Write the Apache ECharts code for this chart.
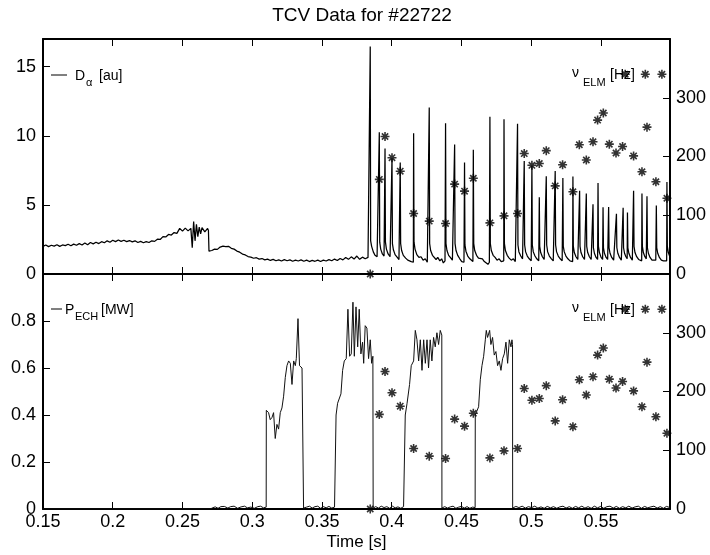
<!DOCTYPE html>
<html>
<head>
<meta charset="utf-8">
<script src="https://cdn.jsdelivr.net/npm/echarts@6/dist/echarts.min.js"></script>
<style>html,body{margin:0;padding:0;background:#fff;}#c{width:710px;height:555px;}</style>
</head>
<body>
<div id="c"></div>
<script>
// ---- data ----
var xTicks = [0.15, 0.2, 0.25, 0.3, 0.35, 0.4, 0.45, 0.5, 0.55];

// D-alpha [au] : [time, value]
var dalpha = [
[0.150,2.00],[0.152,2.10],[0.154,1.98],[0.156,2.08],[0.158,2.02],[0.160,2.12],[0.162,2.00],[0.164,2.10],[0.166,2.05],[0.168,2.15],
[0.170,2.04],[0.172,2.16],[0.174,2.08],[0.176,2.20],[0.178,2.10],[0.180,2.24],[0.182,2.12],[0.184,2.28],[0.186,2.18],[0.188,2.30],
[0.190,2.20],[0.192,2.34],[0.194,2.26],[0.196,2.40],[0.198,2.30],[0.200,2.44],[0.202,2.34],[0.204,2.46],[0.206,2.36],[0.208,2.44],
[0.210,2.34],[0.212,2.42],[0.214,2.32],[0.216,2.40],[0.218,2.28],[0.220,2.36],[0.222,2.26],[0.224,2.34],[0.226,2.28],[0.228,2.40],
[0.230,2.36],[0.232,2.52],[0.234,2.50],[0.236,2.70],[0.238,2.68],[0.240,2.86],[0.242,2.82],[0.244,3.00],[0.246,2.94],[0.248,3.30],
[0.250,3.10],[0.252,3.32],[0.254,3.12],[0.256,3.30],[0.257,1.90],[0.258,3.80],[0.259,2.40],[0.260,3.60],[0.261,2.70],[0.262,3.40],
[0.263,2.90],[0.264,3.35],[0.266,3.05],[0.268,3.30],[0.2686,3.15],[0.2690,1.65],[0.271,1.70],[0.273,1.80],[0.275,1.78],[0.277,1.95],
[0.279,2.02],[0.281,1.98],[0.283,2.00],[0.285,1.86],[0.287,1.80],[0.289,1.66],[0.291,1.58],[0.293,1.44],[0.295,1.38],[0.297,1.26],
[0.299,1.22],[0.301,1.14],[0.303,1.18],[0.305,1.08],[0.307,1.12],[0.309,1.02],[0.311,1.08],[0.313,0.98],[0.315,1.06],[0.317,0.96],
[0.319,1.02],[0.321,0.94],[0.323,1.04],[0.325,0.96],[0.327,1.02],[0.329,0.92],[0.331,1.00],[0.333,0.94],[0.335,1.02],[0.337,0.92],
[0.339,1.00],[0.341,0.90],[0.343,0.98],[0.345,0.92],[0.347,1.00],[0.349,0.90],[0.351,1.00],[0.353,0.94],[0.355,1.04],[0.357,0.96],
[0.359,1.08],[0.361,0.98],[0.363,1.12],[0.365,1.02],[0.367,1.20],[0.369,1.06],[0.371,1.24],[0.373,1.08],[0.375,1.30],[0.377,1.06],
[0.379,1.22],[0.381,1.10],[0.383,1.20],[0.3844,1.15],
[0.3846,16.45],[0.3849,2.4],[0.3856,2.0],[0.3868,1.6],[0.3880,1.35],[0.3895,1.25],[0.3907,1.15],
[0.3909,1.2],[0.3911,10.26],[0.3914,2.3],[0.3921,1.8],[0.3933,1.45],[0.3945,1.3],
[0.3950,1.25],[0.3952,9.07],[0.3955,2.3],[0.3962,1.8],[0.3974,1.45],[0.3988,1.25],[0.3998,1.2],
[0.4000,1.15],[0.4002,8.37],[0.4005,2.2],[0.4012,1.75],[0.4024,1.4],[0.4040,1.2],[0.4052,1.05],[0.4058,1.15],
[0.4059,1.1],[0.4061,8.06],[0.4064,2.2],[0.4071,1.7],[0.4083,1.35],[0.4100,1.15],[0.4115,1.0],[0.4128,1.05],[0.4140,0.9],[0.4150,1.0],[0.4155,0.85],
[0.4157,10.19],[0.4160,2.3],[0.4167,1.8],[0.4180,1.4],[0.4195,1.2],[0.4210,1.25],[0.4225,1.0],[0.4240,1.1],[0.4255,0.85],[0.4265,0.95],
[0.4267,0.9],[0.4269,12.05],[0.4272,2.2],[0.4279,1.7],[0.4292,1.35],[0.4306,1.3],[0.4318,1.05],[0.4330,1.2],[0.4345,0.95],[0.4358,1.1],[0.4370,0.8],[0.4382,0.95],
[0.4384,0.9],[0.4386,10.9],[0.4389,2.2],[0.4396,1.7],[0.4408,1.35],[0.4420,1.2],[0.4435,1.0],[0.4447,1.1],
[0.4449,1.0],[0.4451,9.36],[0.4454,2.2],[0.4461,1.7],[0.4473,1.35],[0.4488,1.1],[0.4502,0.9],[0.4512,1.0],[0.4518,0.85],
[0.4520,0.9],[0.4522,8.06],[0.4525,2.1],[0.4532,1.65],[0.4545,1.3],[0.4560,1.1],[0.4572,1.0],[0.4582,0.9],
[0.4583,0.95],[0.4585,8.98],[0.4588,2.2],[0.4595,1.7],[0.4608,1.35],[0.4622,1.15],[0.4636,1.05],[0.4650,1.1],[0.4664,0.9],[0.4678,0.95],[0.4690,0.7],[0.4700,0.85],
[0.4702,0.75],[0.4704,11.37],[0.4707,2.2],[0.4714,1.7],[0.4727,1.35],[0.4741,1.2],[0.4755,1.0],[0.4770,1.1],[0.4785,0.9],[0.4798,1.0],
[0.4803,0.95],[0.4805,11.2],[0.4808,2.2],[0.4815,1.7],[0.4828,1.35],[0.4842,1.15],[0.4857,1.0],[0.4872,1.1],[0.4886,0.9],[0.4898,1.0],
[0.4900,0.95],[0.4902,10.86],[0.4905,2.1],[0.4912,1.6],[0.4925,1.3],[0.4938,1.1],[0.4947,1.05],
[0.4948,1.05],[0.4950,8.18],[0.4953,2.1],[0.4960,1.6],[0.4972,1.3],[0.4986,1.1],[0.5000,0.95],
[0.5003,0.95],[0.5005,7.85],[0.5008,2.1],[0.5015,1.6],[0.5027,1.3],[0.5040,1.1],[0.5054,0.95],
[0.5056,0.95],[0.5058,5.55],[0.5061,2.0],[0.5068,1.55],[0.5080,1.25],[0.5093,1.05],[0.5104,1.0],
[0.5106,0.95],[0.5108,7.07],[0.5111,2.1],[0.5118,1.6],[0.5130,1.3],[0.5145,1.1],[0.5158,0.95],[0.5168,1.0],
[0.5170,0.9],[0.5172,7.45],[0.5175,2.1],[0.5182,1.6],[0.5194,1.3],[0.5208,1.1],[0.5222,0.95],
[0.5225,0.95],[0.5227,6.95],[0.5230,2.0],[0.5237,1.6],[0.5249,1.3],[0.5263,1.1],[0.5278,0.95],[0.5290,1.0],
[0.5297,0.9],[0.5299,7.05],[0.5302,2.0],[0.5309,1.55],[0.5321,1.25],[0.5334,1.05],[0.5344,1.0],
[0.5345,0.95],[0.5347,6.03],[0.5350,2.0],[0.5357,1.55],[0.5369,1.25],[0.5382,1.05],[0.5392,1.0],
[0.5393,0.95],[0.5395,5.82],[0.5398,2.0],[0.5405,1.55],[0.5417,1.25],[0.5430,1.05],[0.5440,1.0],
[0.5441,0.95],[0.5443,5.05],[0.5446,1.9],[0.5453,1.5],[0.5465,1.2],[0.5476,1.05],
[0.5477,1.0],[0.5479,6.58],[0.5482,2.0],[0.5489,1.55],[0.5501,1.2],[0.5512,1.05],
[0.5513,1.0],[0.5515,4.82],[0.5518,1.9],[0.5525,1.5],[0.5537,1.2],[0.5548,1.05],
[0.5553,1.0],[0.5555,4.85],[0.5558,1.9],[0.5565,1.5],[0.5577,1.2],[0.5591,1.0],[0.5605,0.95],
[0.5609,0.95],[0.5611,4.35],[0.5614,1.9],[0.5621,1.5],[0.5633,1.2],[0.5646,1.0],[0.5656,1.0],
[0.5657,1.0],[0.5659,4.8],[0.5662,1.9],[0.5669,1.5],[0.5679,1.25],[0.5686,1.15],
[0.5688,1.1],[0.5690,4.45],[0.5693,1.9],[0.5700,1.5],[0.5712,1.2],[0.5725,1.0],
[0.5732,0.95],[0.5734,6.03],[0.5737,2.0],[0.5744,1.55],[0.5756,1.25],[0.5770,1.05],[0.5782,0.95],
[0.5792,0.95],[0.5794,5.82],[0.5797,2.0],[0.5804,1.55],[0.5815,1.25],[0.5825,1.1],
[0.5828,1.05],[0.5830,5.62],[0.5833,1.9],[0.5840,1.5],[0.5852,1.2],[0.5866,1.0],[0.5880,0.95],[0.5893,1.0],
[0.5895,0.95],[0.5897,4.95],[0.5900,1.9],[0.5907,1.5],[0.5919,1.2],[0.5933,1.0],[0.5948,0.95],[0.5962,1.0],
[0.5971,0.95],[0.5973,6.65],[0.5976,2.0],[0.5983,1.55],[0.5992,1.3],[0.6000,1.25]
];

// P_ECH [MW] : [time, value]
var pech = [
[0.150,0],[0.270,0],[0.2715,0.005],[0.2735,0.009],[0.2755,0.003],[0.2775,0.010],[0.2800,0.011],[0.2825,0.004],[0.2845,0.010],[0.2870,0.012],
[0.2895,0.003],[0.2920,0.009],[0.2945,0.012],[0.2965,0.005],[0.2990,0.008],[0.3015,0.003],[0.3040,0.010],[0.3060,0.012],[0.3080,0.005],[0.3100,0.008],
[0.3101,0.42],[0.3117,0.41],[0.3129,0.38],[0.3142,0.39],[0.3153,0.41],[0.3165,0.30],[0.3177,0.36],[0.3189,0.34],[0.3201,0.41],[0.3213,0.43],
[0.3225,0.48],[0.3237,0.56],[0.3249,0.61],[0.3261,0.63],[0.3273,0.62],[0.3285,0.53],[0.3297,0.63],[0.3309,0.61],[0.3316,0.64],[0.3328,0.81],
[0.3339,0.61],[0.3357,0.60],[0.3367,0.60],[0.3368,0.004],
[0.3390,0.008],[0.3410,0.012],[0.3430,0.004],[0.3450,0.010],[0.3470,0.012],[0.3490,0.003],[0.3510,0.010],[0.3530,0.005],[0.3550,0.011],[0.3570,0.004],[0.3590,0.008],[0.3600,0.006],
[0.3601,0.40],[0.3612,0.45],[0.3626,0.455],[0.3636,0.49],[0.3648,0.59],[0.3660,0.63],[0.3674,0.64],[0.3686,0.85],[0.3698,0.65],[0.3710,0.66],
[0.3722,0.88],[0.3732,0.65],[0.3744,0.86],[0.3756,0.69],[0.3767,0.85],[0.3779,0.66],[0.3791,0.71],[0.3799,0.62],[0.3810,0.78],[0.3822,0.77],
[0.3834,0.64],[0.3846,0.72],[0.3856,0.62],[0.3865,0.65],[0.3867,0.004],
[0.3885,0.010],[0.3905,0.004],[0.3925,0.012],[0.3945,0.006],[0.3965,0.010],[0.3985,0.003],[0.4005,0.012],[0.4025,0.005],[0.4045,0.009],[0.4065,0.003],[0.4085,0.010],[0.4096,0.006],
[0.4097,0.40],[0.4110,0.45],[0.4128,0.53],[0.4140,0.61],[0.4157,0.63],[0.4169,0.76],[0.4181,0.72],[0.4193,0.63],[0.4205,0.72],[0.4217,0.59],
[0.4229,0.72],[0.4241,0.62],[0.4253,0.72],[0.4264,0.60],[0.4276,0.72],[0.4288,0.63],[0.4300,0.73],[0.4312,0.69],[0.4324,0.75],[0.4336,0.70],
[0.4348,0.76],[0.4359,0.74],[0.4360,0.004],
[0.4380,0.010],[0.4400,0.004],[0.4420,0.009],[0.4440,0.012],[0.4460,0.003],[0.4480,0.008],[0.4500,0.011],[0.4520,0.004],[0.4540,0.010],[0.4560,0.003],[0.4580,0.008],[0.4598,0.006],
[0.4599,0.40],[0.4623,0.435],[0.4635,0.55],[0.4647,0.61],[0.4659,0.65],[0.4671,0.72],[0.4678,0.76],[0.4687,0.73],[0.4702,0.76],[0.4711,0.70],
[0.4723,0.73],[0.4735,0.655],[0.4747,0.67],[0.4759,0.61],[0.4771,0.63],[0.4783,0.59],[0.4795,0.64],[0.4807,0.66],[0.4819,0.71],[0.4831,0.62],
[0.4843,0.72],[0.4855,0.69],[0.4862,0.72],[0.4866,0.70],[0.4867,0.004],
[0.4890,0.011],[0.4912,0.006],[0.4935,0.012],[0.4958,0.004],[0.4980,0.010],[0.5003,0.006],[0.5025,0.012],[0.5048,0.004],[0.5070,0.009],[0.5093,0.003],
[0.5115,0.011],[0.5138,0.005],[0.5160,0.010],[0.5183,0.003],[0.5205,0.009],[0.5228,0.012],[0.5250,0.004],[0.5273,0.010],[0.5295,0.003],[0.5318,0.011],
[0.5340,0.005],[0.5363,0.012],[0.5385,0.004],[0.5408,0.010],[0.5430,0.003],[0.5453,0.012],[0.5475,0.005],[0.5498,0.011],[0.5520,0.003],[0.5543,0.010],
[0.5565,0.012],[0.5588,0.004],[0.5610,0.011],[0.5633,0.003],[0.5655,0.010],[0.5678,0.005],[0.5700,0.012],[0.5723,0.004],[0.5745,0.009],[0.5768,0.012],
[0.5790,0.003],[0.5813,0.011],[0.5835,0.005],[0.5858,0.009],[0.5880,0.012],[0.5903,0.004],[0.5925,0.010],[0.5948,0.003],[0.5970,0.011],[0.5995,0.006]
];

// ELM frequency [Hz]
var elmTime = [0.3846,0.3911,0.3952,0.4002,0.4061,0.4157,0.4269,0.4386,0.4451,0.4522,0.4585,0.4704,0.4805,0.4902,0.4950,0.5005,0.5058,0.5108,0.5172,0.5225,0.5299,0.5345,0.5395,0.5443,0.5476,0.5517,0.5560,0.5608,0.5655,0.5674,0.5734,0.5794,0.5818,0.5830,0.5894,0.5937,0.5973];
var elmFreq = [0,161,234,198,175,103,90,86,153,141,163,87,99,103,205,185,188,210,150,186,140,220,194,225,262,274,221,206,217,340,201,174,340,250,157,340,129];

// ---- chart ----
var FONT = '"Liberation Sans", Arial, Helvetica, sans-serif';
var elmData = elmTime.map(function (t, i) { return [t, elmFreq[i]]; });
var STAR = 'path://M0,5L10,5M5,0L5,10M1.5,1.5L8.5,8.5M8.5,1.5L1.5,8.5';

function xAx(grid, pos, labels) {
  var a = {
    type: 'value', gridIndex: grid, position: pos, min: 0.15, max: 0.5995, interval: 0.05,
    axisLine: { show: true, onZero: false, lineStyle: { color: '#000', width: 2 } },
    axisTick: { show: true, inside: true, length: 7, lineStyle: { color: '#000', width: 1 } },
    axisLabel: { show: labels, showMaxLabel: false, color: '#000', fontFamily: FONT, fontSize: 18, margin: 4 },
    splitLine: { show: false }
  };
  if (labels) {
    a.name = 'Time [s]'; a.nameLocation = 'middle'; a.nameGap = 25;
    a.nameTextStyle = { color: '#000', fontFamily: FONT, fontSize: 17 };
  }
  return a;
}
function yAx(grid, pos, max, interval) {
  return {
    type: 'value', gridIndex: grid, position: pos, min: 0, max: max, interval: interval,
    axisLine: { show: true, onZero: false, lineStyle: { color: '#000', width: 2 } },
    axisTick: { show: true, inside: true, length: 7, lineStyle: { color: '#000', width: 1 } },
    axisLabel: { show: true, showMaxLabel: false, color: '#000', fontFamily: FONT, fontSize: 18, margin: pos === 'left' ? 7 : 6 },
    splitLine: { show: false }
  };
}
function txt(x, y, s, size) {
  return { type: 'text', x: x, y: y, silent: true,
    style: { text: s, fill: '#000', font: size + 'px ' + FONT, align: 'left', verticalAlign: 'middle' } };
}

var chart = echarts.init(document.getElementById('c'), null, { renderer: 'canvas' });
chart.setOption({
  animation: false,
  backgroundColor: '#fff',
  title: { text: 'TCV Data for #22722', left: 357, top: 1, textAlign: 'center',
    textStyle: { color: '#000', fontFamily: FONT, fontSize: 19, fontWeight: 'normal' } },
  grid: [
    { left: 43, right: 40, top: 39, height: 235, containLabel: false, outerBoundsMode: 'none' },
    { left: 43, right: 40, top: 274, height: 235, containLabel: false, outerBoundsMode: 'none' }
  ],
  xAxis: [xAx(0, 'bottom', false), xAx(0, 'top', false), xAx(1, 'bottom', true), xAx(1, 'top', false)],
  yAxis: [yAx(0, 'left', 17, 5), yAx(0, 'right', 400, 100), yAx(1, 'left', 1, 0.2), yAx(1, 'right', 400, 100)],
  series: [
    { type: 'line', name: 'Dalpha', xAxisIndex: 0, yAxisIndex: 0, data: dalpha, showSymbol: false, symbol: 'none',
      lineStyle: { color: '#000', width: 1.25 }, silent: true },
    { type: 'scatter', name: 'nuELM top', xAxisIndex: 0, yAxisIndex: 1, data: elmData, symbol: STAR, symbolSize: 9, clip: false,
      itemStyle: { color: 'rgba(0,0,0,0)', borderColor: '#000', borderWidth: 1.6 }, silent: true },
    { type: 'line', name: 'PECH', xAxisIndex: 2, yAxisIndex: 2, data: pech, showSymbol: false, symbol: 'none',
      lineStyle: { color: '#111', width: 1 }, silent: true },
    { type: 'scatter', name: 'nuELM bottom', xAxisIndex: 2, yAxisIndex: 3, data: elmData, symbol: STAR, symbolSize: 9, clip: false,
      itemStyle: { color: 'rgba(0,0,0,0)', borderColor: '#000', borderWidth: 1.6 }, silent: true }
  ],
  graphic: [
    { type: 'line', silent: true, shape: { x1: 51, y1: 75, x2: 67, y2: 75 }, style: { stroke: '#000', lineWidth: 1 } },
    txt(75, 76, 'D', 14), txt(86, 83, 'α', 11), txt(99, 76, '[au]', 14),
    { type: 'line', silent: true, shape: { x1: 51, y1: 309, x2: 62, y2: 309 }, style: { stroke: '#000', lineWidth: 1 } },
    txt(65, 310, 'P', 14), txt(75, 317, 'ECH', 11), txt(101, 310, '[MW]', 14),
    txt(572, 73, 'ν', 14), txt(583, 83, 'ELM', 11), txt(610, 75, '[Hz]', 14),
    txt(572, 308, 'ν', 14), txt(583, 318, 'ELM', 11), txt(610, 310, '[Hz]', 14)
  ]
});
</script>
</body>
</html>
